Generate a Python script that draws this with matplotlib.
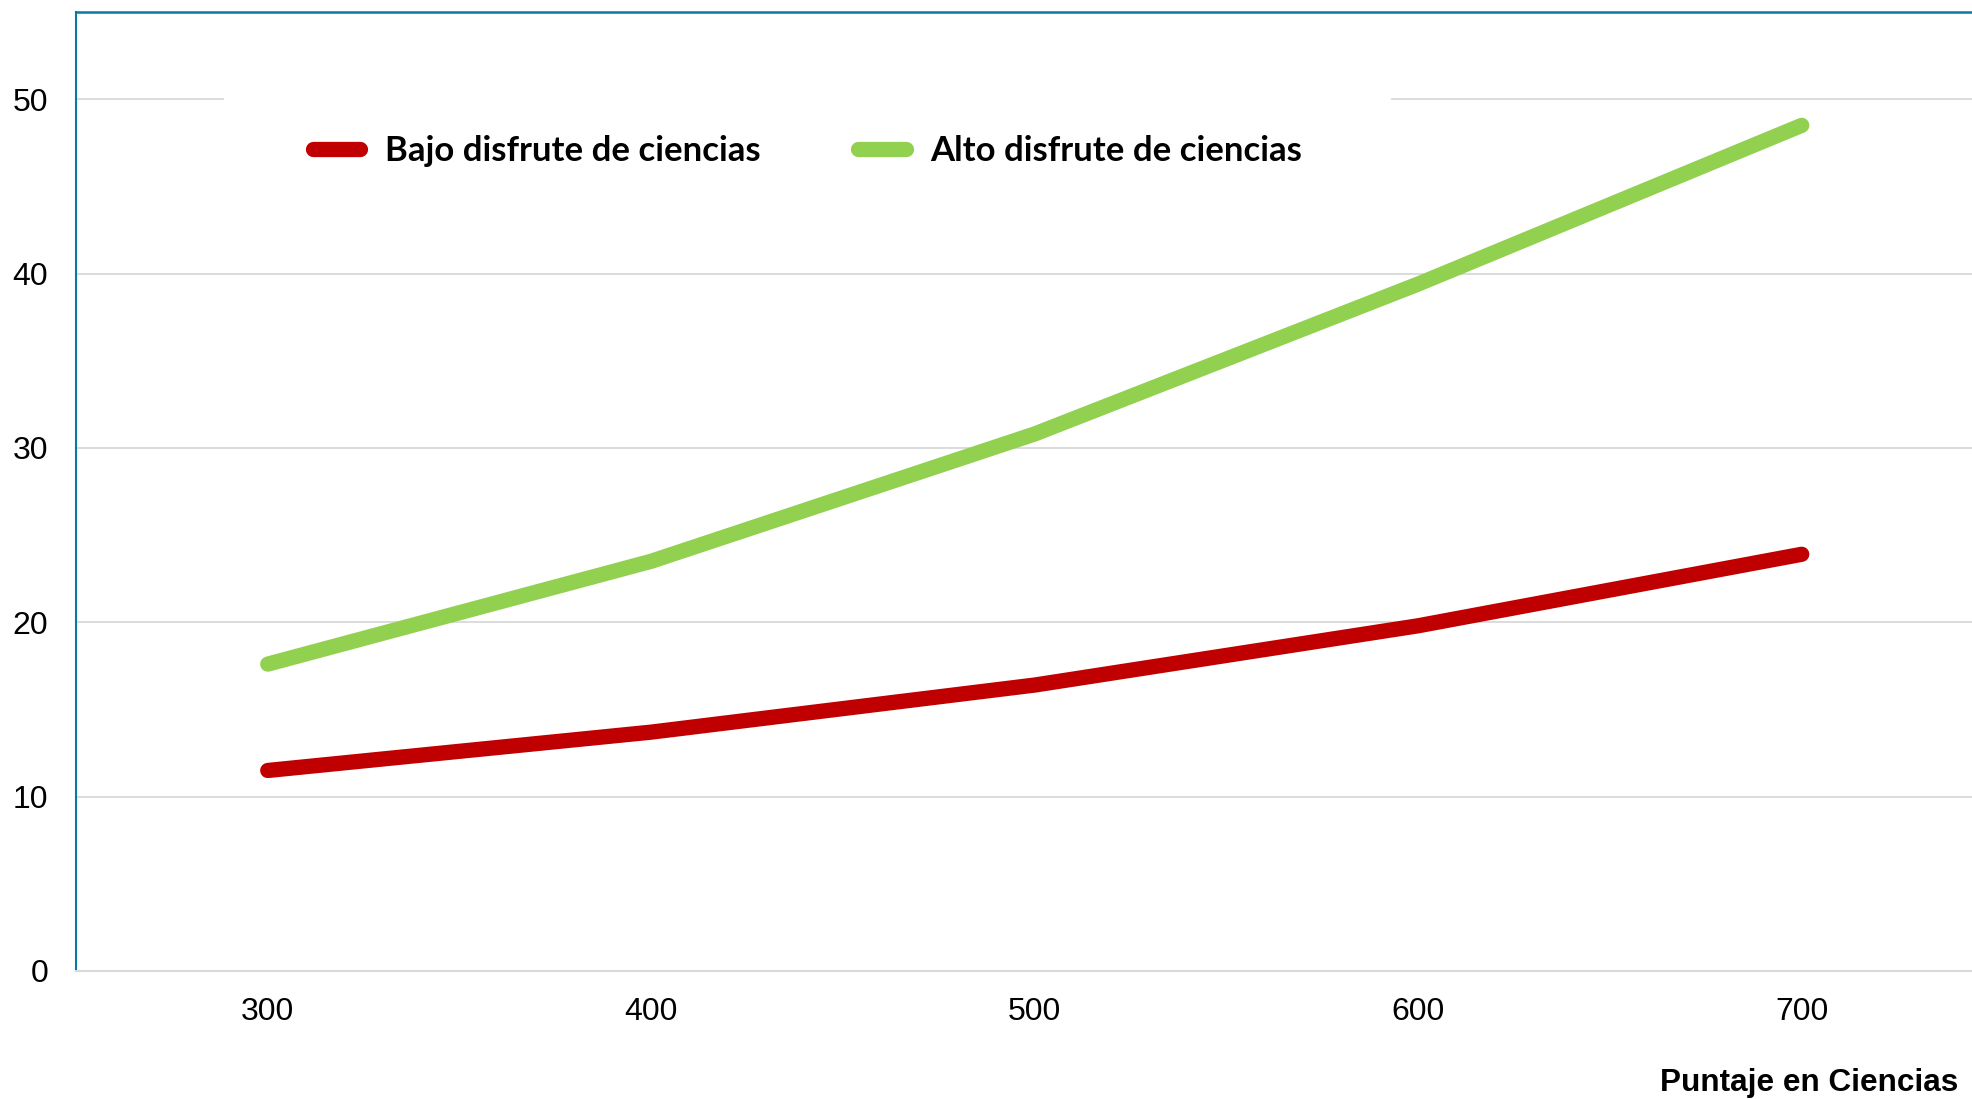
import matplotlib
matplotlib.use("Agg")
import matplotlib.pyplot as plt
from matplotlib.ticker import FixedLocator

# ---- data ----
x_scores = [300, 400, 500, 600, 700]
bajo = [11.5, 13.7, 16.4, 19.8, 23.9]
alto = [17.6, 23.5, 30.8, 39.4, 48.5]
y_ticks = [0, 10, 20, 30, 40, 50]
series_labels = ["Bajo disfrute de ciencias", "Alto disfrute de ciencias"]
x_label = "Puntaje en Ciencias"

RED = "#C00000"
GREEN = "#92D050"
SPINE = "#0A78A3"
GRID = "#D9D9D9"
LW = 11

W, H, DPI = 1972, 1099, 100
fig = plt.figure(figsize=(W / DPI, H / DPI), dpi=DPI)
left = 76 / W
bottom = (H - 971) / H
height = (971 - 12) / H
px_per_unit = (1802 - 268) / 400.0
width = 500 * px_per_unit / W
ax = fig.add_axes([left, bottom, width, height])

ax.set_xlim(250, 750)
ax.set_ylim(0, 55)

ax.spines["right"].set_visible(False)
ax.spines["left"].set_color(SPINE)
ax.spines["left"].set_linewidth(1.5)
ax.spines["top"].set_color(SPINE)
ax.spines["top"].set_linewidth(1.8)
ax.spines["bottom"].set_color(GRID)
ax.spines["bottom"].set_linewidth(1.5)

ax.yaxis.set_major_locator(FixedLocator(y_ticks))
ax.xaxis.set_major_locator(FixedLocator(x_scores))
ax.grid(axis="y", color=GRID, linewidth=1.3, zorder=0)
ax.set_axisbelow(True)
ax.tick_params(axis="both", length=0, labelsize=23, labelcolor="black")
ax.tick_params(axis="y", pad=20)
ax.tick_params(axis="x", pad=19)
for lab in ax.get_xticklabels() + ax.get_yticklabels():
    lab.set_fontfamily("Liberation Sans")

ax.plot(x_scores, bajo, color=RED, linewidth=LW, solid_capstyle="round",
        solid_joinstyle="round", label=series_labels[0], zorder=3)
ax.plot(x_scores, alto, color=GREEN, linewidth=LW, solid_capstyle="round",
        solid_joinstyle="round", label=series_labels[1], zorder=3)

leg = ax.legend(loc="center left", bbox_to_anchor=(224 / W, 1 - 151 / H), bbox_transform=fig.transFigure,
                ncol=2, frameon=True, fancybox=False, edgecolor="none", facecolor="white", framealpha=1,
                prop={"family": "Lato", "weight": "bold", "size": 25},
                handlelength=1.38, handletextpad=0.72, columnspacing=2.78,
                borderpad=2.55, borderaxespad=0)
for h in leg.get_lines():
    h.set_linewidth(LW)
    h.set_solid_capstyle("round")

fig.text(1958 / W, 1 - 1083 / H, x_label, ha="right", va="center",
         fontsize=22.7, fontweight="bold", family="Liberation Sans")

fig.savefig("out.png", dpi=DPI)
